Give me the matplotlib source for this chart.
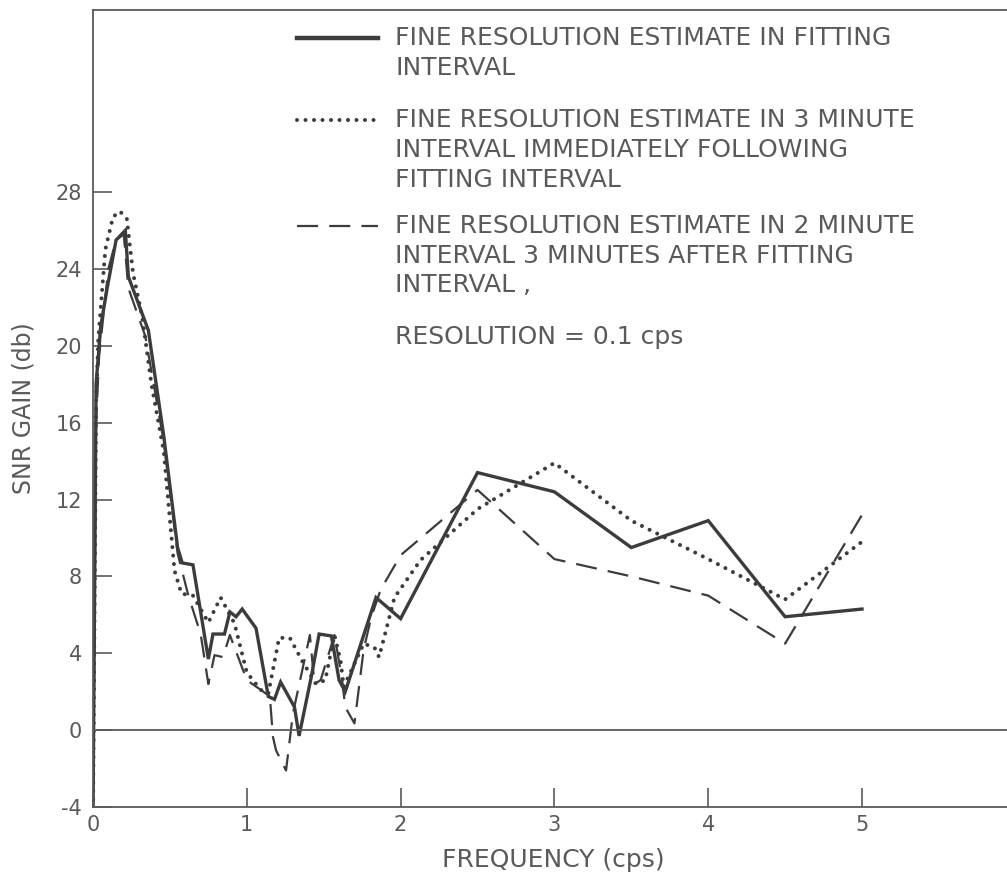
import matplotlib.pyplot as plt
from matplotlib.lines import Line2D

# SNR gain (db) against frequency (cps) for the three fine resolution estimates
freq_fit = [0.0, 0.02, 0.05, 0.09, 0.15, 0.21, 0.23, 0.36, 0.46, 0.55, 0.58, 0.65,
            0.75, 0.78, 0.855, 0.89, 0.93, 0.97, 1.06, 1.14, 1.18, 1.22, 1.31, 1.34,
            1.42, 1.47, 1.55, 1.60, 1.64, 1.84, 2.0, 2.5, 3.0, 3.5, 4.0, 4.5, 5.0]
gain_fit = [-4.5, 18.0, 21.0, 22.9, 25.5, 26.0, 23.6, 20.8, 15.3, 9.5, 8.7, 8.6,
            3.7, 5.0, 5.0, 6.15, 5.9, 6.3, 5.3, 1.75, 1.6, 2.5, 1.2, -0.3,
            2.8, 5.0, 4.9, 2.6, 2.0, 6.9, 5.8, 13.4, 12.4, 9.5, 10.9, 5.9, 6.3]

freq_next3 = [0.0, 0.02, 0.034, 0.08, 0.13, 0.175, 0.22, 0.24, 0.26, 0.32, 0.38,
              0.46, 0.53, 0.575, 0.65, 0.75, 0.83, 0.92, 1.0, 1.09, 1.14, 1.21,
              1.28, 1.36, 1.45, 1.51, 1.57, 1.61, 1.63, 1.76, 1.83, 1.86, 1.96,
              2.13, 2.5, 3.0, 3.5, 4.0, 4.5, 5.0]
gain_next3 = [-4.5, 17.0, 20.3, 25.0, 26.7, 27.0, 26.6, 25.2, 23.8, 21.5, 18.0,
              14.5, 8.3, 7.1, 7.0, 5.6, 6.9, 5.55, 3.0, 2.1, 1.9, 4.8,
              4.8, 3.6, 2.4, 2.6, 4.95, 3.6, 2.25, 4.5, 4.3, 3.8, 6.9,
              8.85, 11.5, 13.9, 10.9, 8.9, 6.8, 9.8]

freq_after3 = [0.0, 0.02, 0.04, 0.1, 0.15, 0.2, 0.23, 0.34, 0.46, 0.55, 0.62, 0.70,
               0.75, 0.79, 0.845, 0.89, 1.0, 1.09, 1.15, 1.17, 1.19, 1.255, 1.30,
               1.41, 1.44, 1.48, 1.57, 1.62, 1.64, 1.70, 1.76, 1.81, 1.87, 2.0,
               2.5, 3.0, 3.5, 4.0, 4.5, 5.0]
gain_after3 = [-4.5, 16.0, 19.5, 24.0, 25.5, 25.8, 23.0, 20.5, 15.0, 9.2, 7.0, 5.0,
               2.4, 3.9, 3.8, 4.95, 2.6, 2.1, 1.75, -0.35, -1.05, -2.1, 0.87,
               4.95, 2.4, 2.6, 4.95, 2.6, 1.2, 0.35, 4.2, 5.9, 7.3, 9.1,
               12.5, 8.9, 8.0, 7.0, 4.5, 11.2]

x_ticks = [0, 1, 2, 3, 4, 5]
y_ticks = [-4, 0, 4, 8, 12, 16, 20, 24, 28]

key_text = [
    ["FINE RESOLUTION ESTIMATE IN FITTING", "INTERVAL"],
    ["FINE RESOLUTION ESTIMATE IN 3 MINUTE", "INTERVAL IMMEDIATELY FOLLOWING",
     "FITTING INTERVAL"],
    ["FINE RESOLUTION ESTIMATE IN 2 MINUTE", "INTERVAL 3 MINUTES AFTER FITTING",
     "INTERVAL ,"],
]
resolution_note = "RESOLUTION = 0.1 cps"

ink = "#3c3c3c"
grey = "#5a5a5a"
solid_style = dict(color=ink, lw=2.4, linestyle="-", solid_joinstyle="miter")
dot_style = dict(color=ink, lw=2.9, linestyle=(0, (0.01, 2.1)), dash_capstyle="round")
dash_style = dict(color=ink, lw=1.6, linestyle=(0, (9.5, 5)))

W, H = 1007, 877
fig = plt.figure(figsize=(W / 100, H / 100), dpi=100)
ax = fig.add_axes([93 / W, 70 / H, 920 / W, 797 / H])

ax.plot(freq_fit, gain_fit, **solid_style)
ax.plot(freq_next3, gain_next3, **dot_style)
ax.plot(freq_after3, gain_after3, **dash_style)
ax.axhline(0, color=grey, lw=1.3)

ax.set_xlim(0, 920 / 153.8)
ax.set_ylim(-4, 37.47)
ax.set_xticks(x_ticks)
ax.set_yticks(y_ticks)
ax.set_yticklabels(["-4"] + [str(v) for v in y_ticks[1:]])
ax.tick_params(direction="in", length=14, width=1.2, colors=grey, labelsize=15)
ax.tick_params(axis="y", pad=8)
ax.tick_params(axis="x", pad=6)
for side in ["left", "top", "bottom"]:
    ax.spines[side].set_color(grey)
    ax.spines[side].set_linewidth(1.3)
ax.spines["right"].set_visible(False)

ax.set_xlabel("FREQUENCY (cps)", fontsize=18, color=grey)
ax.xaxis.set_label_coords(0.50, -0.066)
ax.xaxis.label.set_va("center")
ax.set_ylabel("SNR GAIN (db)", fontsize=17, color=grey)
ax.yaxis.set_label_coords(-0.075, 0.5)
ax.yaxis.label.set_va("center")

# key drawn in figure pixels: sample line, then wrapped description
key_rows = [[38, 68], [120, 150, 180], [226, 256, 285]]
styles = [solid_style, dot_style, dash_style]
for lines, rows, style in zip(key_text, key_rows, styles):
    y0 = 1 - rows[0] / H
    sample = dict(style)
    if style is solid_style:
        sample["lw"] = 3.2
    fig.add_artist(Line2D([297 / W, 378 / W], [y0, y0], transform=fig.transFigure, **sample))
    for text, row in zip(lines, rows):
        fig.text(395 / W, 1 - row / H, text, fontsize=18, color=grey,
                 ha="left", va="center")
fig.text(395 / W, 1 - 337 / H, resolution_note, fontsize=18, color=grey,
         ha="left", va="center")

fig.savefig("out.png", dpi=100, facecolor="white")
